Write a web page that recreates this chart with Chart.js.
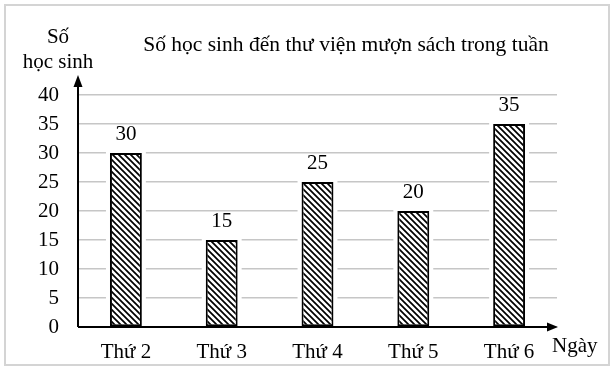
<!doctype html>
<html>
<head>
    <title>Số học sinh đến thư viện mượn sách trong tuần</title>
    <meta charset="utf-8">
    <style>
        html, body {
            background: #fff;
            margin: 0;
            padding: 0;
        }

        .chart {
            height: 372px;
            position: relative;
            width: 615px;
        }
    </style>
    <script src="https://cdn.jsdelivr.net/npm/chart.js@4/dist/chart.umd.min.js"></script>
</head>
<body>
<div class="chart">
    <canvas id="chart"></canvas>
</div>
<script>
    // data
    const days = ["Thứ 2", "Thứ 3", "Thứ 4", "Thứ 5", "Thứ 6"];
    const students = [30, 15, 25, 20, 35];
    const yMax = 40;
    const yStep = 5;

    const chartTitle = "Số học sinh đến thư viện mượn sách trong tuần";
    const yTitle = ["Số", "học sinh"];
    const xTitle = "Ngày";

    const serif = "'Liberation Serif', 'Times New Roman', serif";

    function hatchPattern() {
        let tile = document.createElement("canvas");
        tile.width = 6;
        tile.height = 6;
        let g = tile.getContext("2d");
        g.fillStyle = "#fff";
        g.fillRect(0, 0, 6, 6);
        g.strokeStyle = "#000";
        g.lineWidth = 1.7;
        g.beginPath();
        g.moveTo(-1, -1);
        g.lineTo(7, 7);
        g.moveTo(-4, 2);
        g.lineTo(4, 10);
        g.moveTo(2, -4);
        g.lineTo(10, 4);
        g.stroke();
        return g.createPattern(tile, "repeat");
    }

    let decorations = {
        id: "decorations",
        beforeDraw(chart) {
            let ctx = chart.ctx;
            ctx.save();
            ctx.fillStyle = "#fff";
            ctx.fillRect(0, 0, chart.width, chart.height);
            ctx.strokeStyle = "#d4d4d4";
            ctx.lineWidth = 2;
            ctx.strokeRect(5, 5, 604, 360);
            ctx.restore();
        },
        beforeDatasetsDraw(chart) {
            // white gap where the grid lines meet the bars
            let ctx = chart.ctx;
            ctx.save();
            ctx.fillStyle = "#fff";
            chart.getDatasetMeta(0).data.forEach(function (bar) {
                ctx.fillRect(bar.x - bar.width / 2 - 4, bar.y - 1, bar.width + 8, bar.base - bar.y);
            });
            ctx.restore();
        },
        afterDatasetsDraw(chart) {
            let ctx = chart.ctx;
            let area = chart.chartArea;
            let x0 = chart.scales.x.left;
            let y0 = chart.scales.y.getPixelForValue(0);

            ctx.save();
            ctx.strokeStyle = "#000";
            ctx.fillStyle = "#000";
            ctx.lineWidth = 2;

            // y axis with arrow
            ctx.beginPath();
            ctx.moveTo(x0, y0);
            ctx.lineTo(x0, area.top - 8);
            ctx.stroke();
            ctx.beginPath();
            ctx.moveTo(x0, area.top - 20);
            ctx.lineTo(x0 - 4.5, area.top - 8);
            ctx.lineTo(x0 + 4.5, area.top - 8);
            ctx.closePath();
            ctx.fill();

            // x axis with arrow
            ctx.beginPath();
            ctx.moveTo(x0, y0);
            ctx.lineTo(area.right - 8, y0);
            ctx.stroke();
            ctx.beginPath();
            ctx.moveTo(area.right + 1, y0);
            ctx.lineTo(area.right - 10, y0 - 4.5);
            ctx.lineTo(area.right - 10, y0 + 4.5);
            ctx.closePath();
            ctx.fill();

            // value labels
            ctx.font = "21px " + serif;
            ctx.textAlign = "center";
            ctx.textBaseline = "middle";
            chart.getDatasetMeta(0).data.forEach(function (bar, i) {
                ctx.fillText(String(students[i]), bar.x, bar.y - 19);
            });

            // titles
            ctx.font = "21.5px " + serif;
            ctx.fillText(chartTitle, 346, 45);
            ctx.font = "21px " + serif;
            ctx.fillText(yTitle[0], 58, 37);
            ctx.fillText(yTitle[1], 58, 62);
            ctx.textAlign = "left";
            ctx.fillText(xTitle, 552, 346);
            ctx.restore();
        },
    };

    new Chart(document.getElementById("chart"), {
        type: "bar",
        data: {
            labels: days,
            datasets: [{
                data: students,
                backgroundColor: hatchPattern(),
                borderColor: "#000",
                borderWidth: 2,
                borderSkipped: false,
                barPercentage: 0.333,
                categoryPercentage: 1,
            }],
        },
        options: {
            animation: false,
            maintainAspectRatio: false,
            responsive: true,
            layout: {
                padding: {top: 95, right: 58, bottom: 0, left: 0},
            },
            plugins: {
                legend: {display: false},
                tooltip: {enabled: false},
            },
            scales: {
                x: {
                    afterFit(scale) {
                        scale.height = 45;
                    },
                    border: {display: false},
                    grid: {display: false, drawTicks: false},
                    ticks: {
                        color: "#000",
                        font: {family: serif, size: 21},
                        padding: 13,
                    },
                },
                y: {
                    afterFit(scale) {
                        scale.width = 78;
                    },
                    min: 0,
                    max: yMax,
                    border: {display: false},
                    grid: {color: "#c6c6c6", lineWidth: 1.5, drawTicks: false},
                    ticks: {
                        color: "#000",
                        font: {family: serif, size: 21},
                        padding: 19,
                        stepSize: yStep,
                    },
                },
            },
        },
        plugins: [decorations],
    });
</script>
</body>
</html>
